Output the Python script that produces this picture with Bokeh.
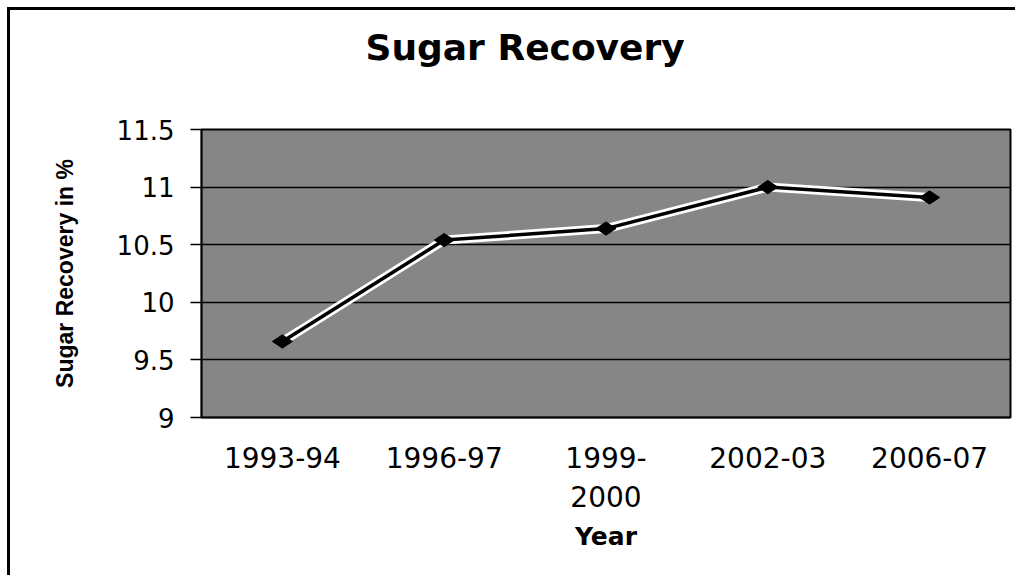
from bokeh.plotting import figure
from bokeh.models import (FactorRange, Range1d, FixedTicker, LinearAxis, CategoricalAxis,
                          ColumnDataSource, Title)
from bokeh.embed import file_html
from bokeh.resources import INLINE
import math

# ---- data ----
years = ["1993-94", "1996-97", "1999-2000", "2002-03", "2006-07"]
recovery = [9.66, 10.54, 10.64, 11.0, 10.91]
y_ticks = [9, 9.5, 10, 10.5, 11, 11.5]
y_tick_labels = ["9", "9.5", "10", "10.5", "11", "11.5"]
x_label_overrides = {"1999-2000": "1999-\n2000"}
title_text = "Sugar Recovery"
x_title = "Year"
y_title = "Sugar Recovery in %"

# displayed category names (long one wrapped onto two lines)
year_labels = [x_label_overrides.get(y, y) for y in years]
src = ColumnDataSource(dict(year=year_labels, rec=recovery))

p = figure(x_range=FactorRange(factors=year_labels, range_padding=0),
           y_range=Range1d(9, 11.5),
           width=1008, height=568, output_backend="svg", toolbar_location=None,
           x_axis_location=None, y_axis_location=None,
           min_border_left=191, min_border_right=8, min_border_top=10, min_border_bottom=161)
p.styles = {"border-top": "3px solid black", "border-left": "3px solid black",
            "margin-top": "7px", "margin-left": "7px"}

p.background_fill_color = "#868686"
p.border_fill_color = "white"
p.outline_line_color = "black"
p.outline_line_width = 2

# spacer between title and plot area, then the title itself
p.add_layout(Title(text=" ", text_font_size="1px", standoff=44), "above")
p.title = Title(text=title_text, align="left", offset=164, standoff=29,
                text_font="DejaVu Sans", text_font_size="36px", text_font_style="bold",
                text_color="black")

# y axis
ya = LinearAxis(ticker=FixedTicker(ticks=y_ticks),
                major_label_overrides={v: s for v, s in zip(y_ticks, y_tick_labels)})
ya.axis_label = y_title
ya.axis_label_text_font = "Liberation Sans"
ya.axis_label_text_font_size = "23px"
ya.axis_label_text_font_style = "bold"
ya.axis_label_text_color = "black"
ya.axis_label_standoff = 36
ya.major_label_text_font = "DejaVu Sans"
ya.major_label_text_font_size = "26px"
ya.major_label_text_color = "black"
ya.major_label_standoff = 16
ya.major_tick_in = 0
ya.major_tick_out = 11
ya.minor_tick_line_color = None
ya.axis_line_color = "black"
ya.axis_line_width = 1.5
ya.major_tick_line_color = "black"
ya.major_tick_line_width = 1.5
p.add_layout(ya, "left")

# categorical x axis
xa = CategoricalAxis()
xa.axis_label = x_title
xa.axis_label_text_font = "DejaVu Sans"
xa.axis_label_text_font_size = "25px"
xa.axis_label_text_font_style = "bold"
xa.axis_label_text_color = "black"
xa.axis_label_standoff = 5
xa.major_label_text_font = "DejaVu Sans"
xa.major_label_text_font_size = "28px"
xa.major_label_text_color = "black"
xa.major_label_standoff = 18
xa.major_label_orientation = "horizontal"
xa.major_tick_line_color = None
xa.axis_line_color = "black"
xa.axis_line_width = 1.5
p.add_layout(xa, "below")

p.xgrid.grid_line_color = None
p.ygrid.ticker = FixedTicker(ticks=y_ticks)
p.ygrid.grid_line_color = "black"
p.ygrid.grid_line_width = 1.5

# series
p.line("year", "rec", source=src, line_color="white", line_width=9)
p.line("year", "rec", source=src, line_color="black", line_width=3.5)
p.scatter("year", "rec", source=src, marker="diamond", size=20, angle=math.pi / 2,
          fill_color="black", line_color="black")

open("out.html", "w").write(file_html(p, INLINE))
